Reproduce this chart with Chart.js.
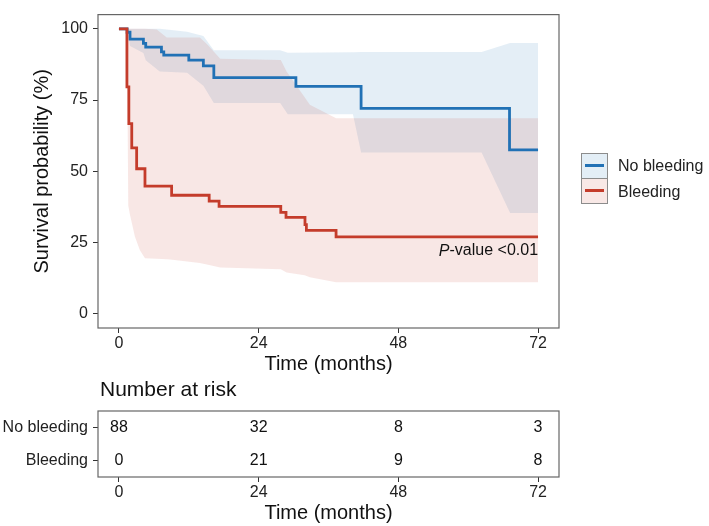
<!DOCTYPE html>
<html>
<head>
<meta charset="utf-8">
<script src="https://cdn.jsdelivr.net/npm/chart.js@4.4.1/dist/chart.umd.min.js"></script>
<style>
  html, body { margin: 0; padding: 0; background: #fff; }
  body { width: 709px; height: 526px; position: relative; overflow: hidden; font-family: "Liberation Sans", Arial, sans-serif; color: #222; }
  #km { position: absolute; left: 0; top: 0; }
  #risk { position: absolute; left: 0; top: 378px; }
  .key { position: absolute; left: 581px; width: 25px; height: 24px; border: 1px solid #8c8c8c; }
  .key span { position: absolute; left: 3px; top: 10px; width: 19px; height: 3px; }
  .lbl { position: absolute; left: 618px; font-size: 16px; line-height: 20px; }
</style>
</head>
<body>
<canvas id="km" width="709" height="378"></canvas>
<canvas id="risk" width="709" height="148"></canvas>

<div class="key" style="top:153px;background:#e3eef6"><span style="background:#2171b5"></span></div>
<div class="key" style="top:178px;background:#f8e8e6"><span style="background:#c43c2b"></span></div>
<div class="lbl" style="top:156px">No bleeding</div>
<div class="lbl" style="top:182px">Bleeding</div>

<script>
// groups
const groups = ['No bleeding', 'Bleeding'];

// Kaplan-Meier steps (months, %)
const noBleedTimes = [0, 1.4, 1.9, 4.2, 4.6, 7.3, 7.7, 12.0, 14.5, 16.3, 30.4, 41.6, 67.1, 72];
const noBleedSurv  = [100, 98.8, 96.4, 94.9, 93.6, 91.9, 90.8, 89.0, 87.0, 82.9, 79.8, 72.1, 57.5, 57.5];

const bleedTimes = [0, 1.37, 1.7, 2.2, 3.04, 4.47, 9.05, 15.5, 17.2, 27.8, 28.7, 31.96, 32.2, 37.3, 72];
const bleedSurv  = [100, 79.6, 66.7, 58.2, 50.9, 44.8, 41.6, 39.5, 37.7, 35.6, 33.8, 31.3, 29.3, 27.0, 27.0];

// confidence bands
const noBleedBandTimes = [0, 1.4, 1.9, 4.2, 4.6, 7.0, 11.7, 14.5, 16.3, 27.7, 29.0, 40.2, 41.6, 62.3, 67.2, 72];
const noBleedUpper     = [100, 100, 100, 100, 100, 100, 99, 97.5, 92.5, 92.5, 91.6, 91.8, 91.9, 91.9, 95, 95];
const noBleedLower     = [100, 100, 94, 91.5, 89, 85, 84.6, 80, 74, 74, 70, 70, 56.6, 56.6, 35.4, 35.4];

const bleedBandTimes = [1.37, 1.6, 1.9, 2.75, 3.6, 4.47, 6.5, 8.2, 8.8, 13.9, 15.1, 17.4, 27.8, 28.8, 31.9, 32.8, 37.3, 72];
const bleedUpper     = [100, 100, 100, 100, 100, 100, 99.8, 97, 97, 97, 94.7, 89.5, 89.1, 85, 76, 73.4, 68.6, 68.6];
const bleedLower     = [100, 38, 34.7, 27, 22.3, 19.5, 19.3, 19.1, 19.0, 17.8, 17.3, 16.2, 15.6, 14.5, 13.5, 12.8, 11.1, 11.1];

// axes + risk table
const timeTicks = [0, 24, 48, 72];
const survTicks = [0, 25, 50, 75, 100];
const riskNoBleed = [88, 32, 8, 3];
const riskBleed = [0, 21, 9, 8];

const BLUE = '#2171b5';
const RED = '#c43c2b';
const FONT = '"Liberation Sans", Arial, sans-serif';

Chart.defaults.font.family = FONT;
Chart.defaults.color = '#222';

const pts = (xs, ys) => xs.map((x, i) => ({ x: x, y: ys[i] }));

const panelBox = {
  id: 'panelBox',
  afterDatasetsDraw(chart) {
    const { ctx, chartArea: a } = chart;
    ctx.save();
    ctx.strokeStyle = '#666';
    ctx.lineWidth = 1.2;
    ctx.strokeRect(a.left, a.top, a.right - a.left, a.bottom - a.top);
    ctx.restore();
  }
};

const pValueText = {
  id: 'pValueText',
  afterDatasetsDraw(chart) {
    const { ctx, scales: { x, y } } = chart;
    const right = x.getPixelForValue(72);
    const mid = y.getPixelForValue(22);
    ctx.save();
    ctx.fillStyle = '#111';
    ctx.textBaseline = 'middle';
    ctx.font = '16px ' + FONT;
    const rest = '-value <0.01';
    const wRest = ctx.measureText(rest).width;
    ctx.textAlign = 'left';
    ctx.fillText(rest, right - wRest, mid);
    ctx.font = 'italic 16px ' + FONT;
    const wP = ctx.measureText('P').width;
    ctx.fillText('P', right - wRest - wP, mid);
    ctx.restore();
  }
};

const tickGrid = { display: true, drawOnChartArea: false, drawTicks: true, tickLength: 5, color: '#333', lineWidth: 1 };

new Chart(document.getElementById('km'), {
  type: 'scatter',
  data: {
    datasets: [
      { data: pts(noBleedBandTimes, noBleedUpper), showLine: true, borderWidth: 0, pointRadius: 0, fill: false, order: 3 },
      { data: pts(noBleedBandTimes, noBleedLower), showLine: true, borderWidth: 0, pointRadius: 0,
        fill: 0, backgroundColor: 'rgba(33,113,181,0.12)', order: 3 },
      { data: pts(bleedBandTimes, bleedUpper), showLine: true, borderWidth: 0, pointRadius: 0, fill: false, order: 2 },
      { data: pts(bleedBandTimes, bleedLower), showLine: true, borderWidth: 0, pointRadius: 0,
        fill: 2, backgroundColor: 'rgba(196,60,43,0.12)', order: 2 },
      { label: groups[0], data: pts(noBleedTimes, noBleedSurv), showLine: true, stepped: true,
        borderColor: BLUE, borderWidth: 2.8, pointRadius: 0, fill: false, order: 1 },
      { label: groups[1], data: pts(bleedTimes, bleedSurv), showLine: true, stepped: true,
        borderColor: RED, borderWidth: 2.8, pointRadius: 0, fill: false, order: 0 }
    ]
  },
  options: {
    responsive: false,
    animation: false,
    layout: { padding: { top: 2, right: 150, left: 0, bottom: 0 } },
    plugins: { legend: { display: false }, tooltip: { enabled: false } },
    scales: {
      x: {
        type: 'linear', min: -3.6, max: 75.6,
        afterBuildTicks: s => { s.ticks = timeTicks.map(v => ({ value: v })); },
        afterFit: s => { s.height = 50; },
        grid: tickGrid,
        border: { display: false },
        ticks: { font: { size: 16 }, padding: 1, color: '#222' },
        title: { display: true, text: 'Time (months)', font: { size: 20 }, color: '#111', padding: { top: 0, bottom: 2 } }
      },
      y: {
        type: 'linear', min: -5, max: 105,
        afterBuildTicks: s => { s.ticks = survTicks.map(v => ({ value: v })); },
        afterFit: s => { s.width = 98; },
        grid: tickGrid,
        border: { display: false },
        ticks: { font: { size: 16 }, padding: 5, color: '#222' },
        title: { display: true, text: 'Survival probability (%)', font: { size: 20 }, color: '#111', padding: { top: 30, bottom: 0 } }
      }
    }
  },
  plugins: [panelBox, pValueText]
});

// number at risk table
const riskNumbers = {
  id: 'riskNumbers',
  afterDatasetsDraw(chart) {
    const { ctx, chartArea: a } = chart;
    ctx.save();
    ctx.fillStyle = '#111';
    ctx.textBaseline = 'middle';
    ctx.font = '21px ' + FONT;
    ctx.textAlign = 'left';
    ctx.fillText('Number at risk', a.left + 2, 12);
    ctx.font = '16px ' + FONT;
    ctx.textAlign = 'center';
    chart.data.datasets.forEach((ds, i) => {
      chart.getDatasetMeta(i).data.forEach((el, j) => {
        ctx.fillText(String(ds.data[j].n), el.x, el.y);
      });
    });
    ctx.restore();
  }
};

const riskRows = [riskNoBleed, riskBleed];

new Chart(document.getElementById('risk'), {
  type: 'scatter',
  data: {
    datasets: riskRows.map((counts, r) => ({
      label: groups[r],
      data: timeTicks.map((t, j) => ({ x: t, y: r + 1, n: counts[j] })),
      pointRadius: 0
    }))
  },
  options: {
    responsive: false,
    animation: false,
    layout: { padding: { top: 33, right: 150, left: 0, bottom: 0 } },
    plugins: { legend: { display: false }, tooltip: { enabled: false } },
    scales: {
      x: {
        type: 'linear', min: -3.6, max: 75.6,
        afterBuildTicks: s => { s.ticks = timeTicks.map(v => ({ value: v })); },
        afterFit: s => { s.height = 49; },
        grid: tickGrid,
        border: { display: false },
        ticks: { font: { size: 16 }, padding: 1, color: '#222' },
        title: { display: true, text: 'Time (months)', font: { size: 20 }, color: '#111', padding: { top: 0, bottom: 1 } }
      },
      y: {
        type: 'linear', min: 0.5, max: 2.5, reverse: true,
        afterBuildTicks: s => { s.ticks = [{ value: 1 }, { value: 2 }]; },
        afterFit: s => { s.width = 98; },
        grid: tickGrid,
        border: { display: false },
        ticks: { font: { size: 16 }, padding: 5, color: '#222', callback: v => groups[v - 1] }
      }
    }
  },
  plugins: [panelBox, riskNumbers]
});
</script>
</body>
</html>
